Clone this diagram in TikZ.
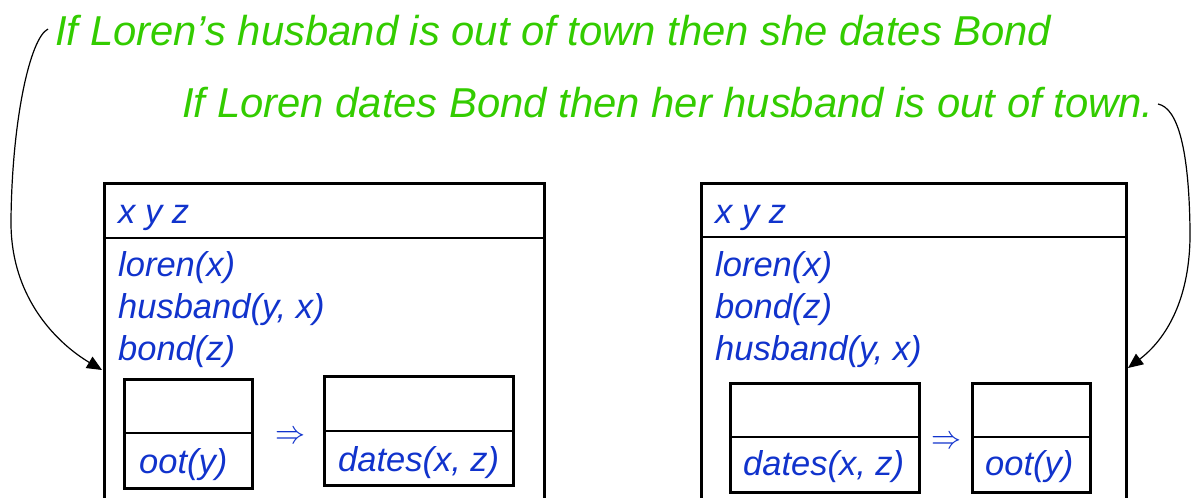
\documentclass[tikz,border=0pt]{standalone}
\usepackage{fontspec}
\setmainfont{Liberation Sans}
\usetikzlibrary{arrows.meta}
\definecolor{lgreen}{RGB}{51,204,0}
\definecolor{dblue}{RGB}{17,51,204}
\begin{document}
\begin{tikzpicture}[x=1pt,y=-1pt,
  frame/.style={draw=black,line width=3pt,inner sep=0pt,outer sep=0pt,anchor=north west},
  divider/.style={draw=black,line width=1.4pt},
  bluetxt/.style={text=dblue,font=\fontsize{34.5}{40}\selectfont\itshape,inner sep=0pt,anchor=base west},
  greentxt/.style={text=lgreen,font=\fontsize{41.8}{48}\selectfont\itshape,inner sep=0pt,anchor=base west},
  impl/.style={text=dblue,inner sep=0pt},
  conn/.style={draw=black,line width=1.2pt,-{Triangle[length=15pt,width=13pt]}}]
\useasboundingbox (0,0) rectangle (1192,498);
\clip (0,0) rectangle (1192,498);
% green texts
\node[greentxt] (g1) at (55,45) {If Loren’s husband is out of town then she dates Bond};
\node[greentxt] (g2) at (182,117) {If Loren dates Bond then her husband is out of town.};
% left big box
\node[frame,minimum width=440pt,minimum height=360pt] (L) at (104,183) {};
\draw[divider] ([yshift=-55pt]L.north west) -- ([yshift=-55pt]L.north east);
\node[bluetxt] (lv) at (118,223) {x y z};
\node[bluetxt] (l1) at (118,276) {loren(x)};
\node[bluetxt] (l2) at (118,318) {husband(y, x)};
\node[bluetxt] (l3) at (118,360) {bond(z)};
\node[frame,minimum width=128pt,minimum height=109pt] (La) at (124,379) {};
\draw[divider] ([yshift=-54pt]La.north west) -- ([yshift=-54pt]La.north east);
\node[bluetxt] (lat) at (139,473) {oot(y)};
\node[impl] (limp) at (290,437) {\resizebox{30pt}{12pt}{$\Rightarrow$}};
\node[frame,minimum width=189pt,minimum height=109pt] (Lb) at (324,376) {};
\draw[divider] ([yshift=-55pt]Lb.north west) -- ([yshift=-55pt]Lb.north east);
\node[bluetxt] (lbt) at (338,471) {dates(x, z)};
% right big box
\node[frame,minimum width=425pt,minimum height=360pt] (R) at (701,183) {};
\draw[divider] ([yshift=-54pt]R.north west) -- ([yshift=-54pt]R.north east);
\node[bluetxt] (rv) at (715,223) {x y z};
\node[bluetxt] (r1) at (715,276) {loren(x)};
\node[bluetxt] (r2) at (715,318) {bond(z)};
\node[bluetxt] (r3) at (715,360) {husband(y, x)};
\node[frame,minimum width=189pt,minimum height=109pt] (Ra) at (730,383) {};
\draw[divider] ([yshift=-54pt]Ra.north west) -- ([yshift=-54pt]Ra.north east);
\node[bluetxt] (rat) at (743,475) {dates(x, z)};
\node[impl] (rimp) at (946,442) {\resizebox{30pt}{12pt}{$\Rightarrow$}};
\node[frame,minimum width=118pt,minimum height=109pt] (Rb) at (972,383) {};
\draw[divider] ([yshift=-54pt]Rb.north west) -- ([yshift=-54pt]Rb.north east);
\node[bluetxt] (rbt) at (985,475) {oot(y)};
% connectors
\coordinate (Ls) at (48,29);
\coordinate (Lm) at (11,220);
\coordinate (Le) at (102,370);
\draw[conn] (Ls) .. controls (30,38) and (12,120) .. (Lm) .. controls (10,300) and (60,345) .. (Le);
\coordinate (Rs) at (1158,104);
\coordinate (Rm) at (1190,230);
\coordinate (Re) at (1128,368);
\draw[conn] (Rs) .. controls (1178,108) and (1189,150) .. (Rm) .. controls (1191,300) and (1165,340) .. (Re);
\end{tikzpicture}
\end{document}
